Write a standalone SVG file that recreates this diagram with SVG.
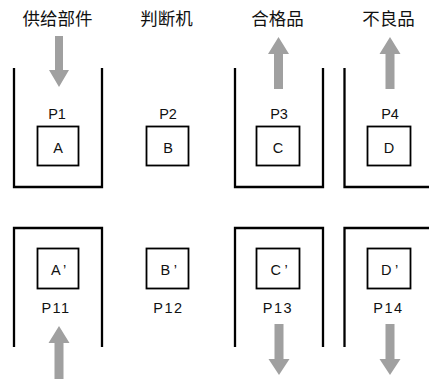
<svg xmlns="http://www.w3.org/2000/svg" width="429" height="379" viewBox="0 0 429 379">
<style>
.bg{fill:#fff}
.wall{fill:none;stroke:#000;stroke-width:2.3}
.box{fill:#fff;stroke:#000;stroke-width:1.8}
.lbl{font-family:"Liberation Sans","Noto Sans CJK SC",sans-serif;font-size:14.5px;fill:#111;text-anchor:middle}
.lbl2{font-family:"Liberation Sans","Noto Sans CJK SC",sans-serif;font-size:14.5px;fill:#111;text-anchor:middle;letter-spacing:1.5px}
.lblp{font-family:"Liberation Sans","Noto Sans CJK SC",sans-serif;font-size:14.5px;fill:#111;text-anchor:start}
.ttl{font-family:"Noto Sans CJK SC","Noto Sans CJK JP",sans-serif;font-size:17.5px;fill:#111;text-anchor:middle}
.arr{fill:#a0a0a0}
</style>
<rect class="bg" width="429" height="379"/>
<g id="titles">
<text class="ttl" x="57.5" y="24.5">供给部件</text>
<text class="ttl" x="166.5" y="24.5">判断机</text>
<text class="ttl" x="277.5" y="24.5">合格品</text>
<text class="ttl" x="388.5" y="24.5">不良品</text>
</g>
<g id="P1">
<path class="wall" d="M14,68 V187 H102 V68"/>
<text class="lbl" x="57" y="119">P1</text>
<rect class="box" x="37.5" y="126.5" width="41" height="39"/>
<text class="lbl" x="58" y="153">A</text>
</g>
<g id="P2">
<text class="lbl" x="168" y="119">P2</text>
<rect class="box" x="146.5" y="126.5" width="42" height="39"/>
<text class="lbl" x="168" y="153">B</text>
</g>
<g id="P3">
<path class="wall" d="M235,68 V187 H323 V68"/>
<text class="lbl" x="279" y="119">P3</text>
<rect class="box" x="256.5" y="126.5" width="43" height="39"/>
<text class="lbl" x="278" y="153">C</text>
</g>
<g id="P4">
<path class="wall" d="M344.5,68 V187 H429"/>
<text class="lbl" x="390" y="119">P4</text>
<rect class="box" x="367.5" y="126.5" width="43" height="39"/>
<text class="lbl" x="389" y="153">D</text>
</g>
<g id="P11">
<path class="wall" d="M14,347 V228 H102 V347"/>
<rect class="box" x="37.5" y="248.5" width="41" height="40"/>
<text class="lblp" x="51" y="275">A<tspan dx="3.5">’</tspan></text>
<text class="lbl2" x="56" y="313">P11</text>
</g>
<g id="P12">
<rect class="box" x="146.5" y="248.5" width="42" height="40"/>
<text class="lblp" x="160.5" y="275">B<tspan dx="3.5">’</tspan></text>
<text class="lbl2" x="168.5" y="313">P12</text>
</g>
<g id="P13">
<path class="wall" d="M235,347 V228 H323 V347"/>
<rect class="box" x="256.5" y="248.5" width="43" height="40"/>
<text class="lblp" x="270.5" y="275">C<tspan dx="3.5">’</tspan></text>
<text class="lbl2" x="278" y="313">P13</text>
</g>
<g id="P14">
<path class="wall" d="M344.5,347 V228 H429"/>
<rect class="box" x="367.5" y="248.5" width="43" height="40"/>
<text class="lblp" x="381" y="275">D<tspan dx="3.5">’</tspan></text>
<text class="lbl2" x="388.5" y="313">P14</text>
</g>
<g id="connectors">
<polygon class="arr" points="55,36 63,36 63,70 69,70 59,87 49,70 55,70"/>
<polygon class="arr" points="278.5,37 289,54 283,54 283,89 274,89 274,54 268,54"/>
<polygon class="arr" points="390,37 400.5,54 394.5,54 394.5,89 385.5,89 385.5,54 379.5,54"/>
<polygon class="arr" points="59,326 69.5,343 63.5,343 63.5,379 54.5,379 54.5,343 48.5,343"/>
<polygon class="arr" points="274.5,324 283.5,324 283.5,359 289.5,359 279,375 268.5,359 274.5,359"/>
<polygon class="arr" points="385.5,324 394.5,324 394.5,359 400.5,359 390,375 379.5,359 385.5,359"/>
</g>
</svg>
